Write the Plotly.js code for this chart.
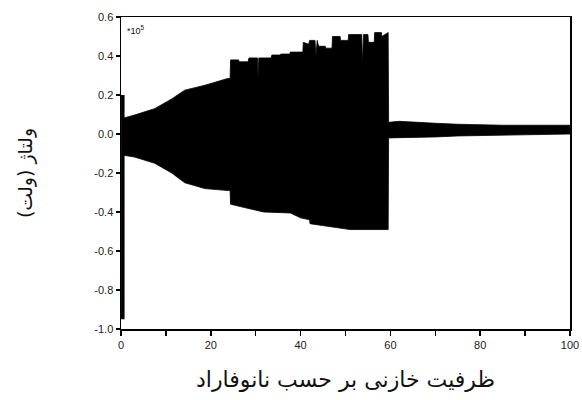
<!DOCTYPE html>
<html>
<head>
<meta charset="utf-8">
<script src="https://cdn.plot.ly/plotly-3.0.1.min.js"></script>
<style>html,body{margin:0;padding:0;background:#fff;}#chart{width:582px;height:400px;}</style>
</head>
<body>
<div id="chart"></div>
<script>
// Upper envelope of the oscillating voltage (units of 10^5 V)
const topX = [0.3, 3, 7.5, 11.3, 14.2, 18.7, 23.8, 24.3, 24.4, 26.2, 26.3, 28.3, 28.5, 30.4, 30.5, 30.7, 33.4, 33.6, 35.5, 35.6, 37.6, 37.7, 40.5, 40.6, 41.8, 42, 43.2, 43.4, 43.7, 44, 45.5, 45.6, 47, 47.1, 48.8, 48.9, 50.6, 50.7, 53.6, 53.8, 54, 55, 55.1, 56.4, 56.5, 58, 58.1, 59.5, 59.6, 62, 70, 75, 85, 100];
const topY = [0.08, 0.097, 0.13, 0.18, 0.225, 0.25, 0.285, 0.285, 0.38, 0.38, 0.37, 0.37, 0.39, 0.39, 0.29, 0.39, 0.39, 0.405, 0.405, 0.41, 0.41, 0.42, 0.42, 0.47, 0.46, 0.48, 0.48, 0.40, 0.48, 0.45, 0.45, 0.44, 0.44, 0.50, 0.50, 0.48, 0.48, 0.51, 0.51, 0.36, 0.51, 0.51, 0.47, 0.47, 0.52, 0.52, 0.50, 0.52, 0.06, 0.065, 0.055, 0.05, 0.045, 0.045];
// Lower envelope
const bottomX = [0.3, 3, 7.5, 11.3, 14.2, 18.7, 23.8, 24.3, 24.4, 28, 31.8, 37.7, 40, 42, 42.1, 45, 48, 51, 59.5, 59.6, 62, 70, 75, 85, 100];
const bottomY = [-0.108, -0.118, -0.15, -0.20, -0.25, -0.28, -0.29, -0.29, -0.36, -0.38, -0.40, -0.405, -0.43, -0.44, -0.46, -0.47, -0.48, -0.49, -0.49, -0.02, -0.02, -0.015, -0.01, -0.005, 0.0];
// Initial transient at t = 0
const transientX = [0.4, 0.4];
const transientY = [0.2, -0.95];

const xTickVals = [0, 20, 40, 60, 80, 100];
const xMinorTickVals = [10, 30, 50, 70, 90];
const yTickVals = [-1.0, -0.8, -0.6, -0.4, -0.2, 0.0, 0.2, 0.4, 0.6];
const yTickText = ['-1.0', '-0.8', '-0.6', '-0.4', '-0.2', '0.0', '0.2', '0.4', '0.6'];

const xTitle = 'ظرفیت خازنی بر حسب نانوفاراد';
const yTitle = 'ولتاژ (ولت)';
const scaleNote = '*10<sup>5</sup>';

const polyX = topX.concat(bottomX.slice().reverse());
const polyY = topY.concat(bottomY.slice().reverse());

const traces = [
  {x: polyX, y: polyY, type: 'scatter', mode: 'lines', fill: 'toself',
   fillcolor: '#000', line: {color: '#000', width: 0.8}, hoverinfo: 'skip', showlegend: false},
  {x: transientX, y: transientY, type: 'scatter', mode: 'lines',
   line: {color: '#000', width: 3.5}, showlegend: false}
];

const tickFont = {family: 'Liberation Sans, Arial, sans-serif', size: 11, color: '#222'};

const layout = {
  width: 582, height: 400,
  margin: {l: 121, r: 12, t: 17, b: 71},
  paper_bgcolor: '#fff', plot_bgcolor: '#fff',
  showlegend: false,
  xaxis: {
    range: [0, 100], tickvals: xTickVals,
    showline: true, mirror: true, linecolor: '#000', linewidth: 1.5,
    ticks: 'outside', ticklen: 5, tickwidth: 1.5, tickcolor: '#000',
    minor: {tickvals: xMinorTickVals, ticks: 'outside', ticklen: 5, tickwidth: 1.5, tickcolor: '#000', showgrid: false},
    showgrid: false, zeroline: false, tickfont: tickFont,
    title: {text: xTitle, font: {family: 'DejaVu Sans', size: 22, color: '#111'}, standoff: 22}
  },
  yaxis: {
    range: [-1.0, 0.6], tickvals: yTickVals, ticktext: yTickText,
    showline: true, mirror: true, linecolor: '#000', linewidth: 1.5,
    ticks: 'outside', ticklen: 4, tickwidth: 1.5, tickcolor: '#000',
    showgrid: false, zeroline: false, tickfont: tickFont,
    title: {text: yTitle, font: {family: 'DejaVu Sans', size: 19, color: '#111'}, standoff: 56}
  },
  annotations: [
    {text: scaleNote, xref: 'paper', yref: 'paper', x: 0.01, y: 0.985,
     xanchor: 'left', yanchor: 'top', showarrow: false,
     font: {family: 'Liberation Sans, Arial, sans-serif', size: 9, color: '#111'}}
  ]
};

Plotly.newPlot('chart', traces, layout, {displayModeBar: false, staticPlot: true});
</script>
</body>
</html>
